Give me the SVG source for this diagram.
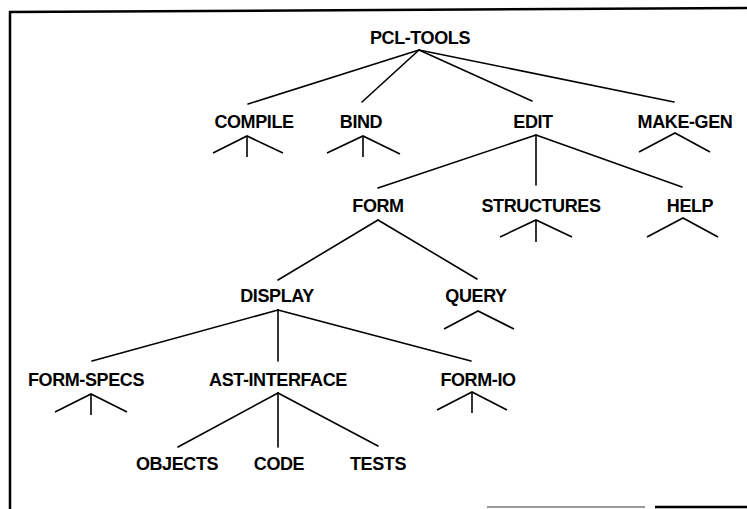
<svg xmlns="http://www.w3.org/2000/svg" width="747" height="509" viewBox="0 0 747 509">
<style>
  .bg { fill: #ffffff; }
  .frame { stroke: #000; stroke-width: 2.5; fill: none; }
  .frame-faint { stroke: #777; stroke-width: 1.5; fill: none; }
  .edge { stroke: #000; stroke-width: 1.6; fill: none; stroke-linecap: round; }
  .stub { stroke: #000; stroke-width: 1.6; fill: none; stroke-linejoin: miter; }
  .label { font-family: "Liberation Sans", Arial, sans-serif; font-weight: bold; font-size: 18px; letter-spacing: -0.4px; fill: #000; text-anchor: middle; }
</style>
<rect class="bg" x="0" y="0" width="747" height="509"/>
<g id="frame">
  <line class="frame" x1="9" y1="12" x2="747" y2="8"/>
  <line class="frame" x1="10" y1="11" x2="10" y2="509"/>
  <line class="frame-faint" x1="487" y1="507" x2="645" y2="507"/>
  <line class="frame" x1="655" y1="507" x2="747" y2="507"/>
</g>
<g id="connectors">
  <line class="edge" x1="419" y1="50" x2="248" y2="104"/>
  <line class="edge" x1="419" y1="50" x2="362" y2="102"/>
  <line class="edge" x1="419" y1="50" x2="532" y2="101"/>
  <line class="edge" x1="419" y1="50" x2="674" y2="102"/>
  <line class="edge" x1="536" y1="135" x2="378" y2="188"/>
  <line class="edge" x1="536" y1="135" x2="536" y2="185"/>
  <line class="edge" x1="536" y1="135" x2="682" y2="187"/>
  <line class="edge" x1="378" y1="220" x2="278" y2="280"/>
  <line class="edge" x1="378" y1="220" x2="477" y2="279"/>
  <line class="edge" x1="278" y1="310" x2="92" y2="361"/>
  <line class="edge" x1="278" y1="310" x2="278" y2="361"/>
  <line class="edge" x1="278" y1="310" x2="471" y2="361"/>
  <line class="edge" x1="278" y1="393" x2="178" y2="447"/>
  <line class="edge" x1="278" y1="393" x2="278" y2="447"/>
  <line class="edge" x1="278" y1="393" x2="378" y2="446"/>
</g>
<g id="pcl-tools"><text class="label" x="420" y="44">PCL-TOOLS</text></g>
<g id="compile">
  <text class="label" x="254" y="128">COMPILE</text>
  <polyline class="stub" points="213,153 247,136 283,153"/>
  <line class="stub" x1="247" y1="136" x2="247" y2="157"/>
</g>
<g id="bind">
  <text class="label" x="361" y="128">BIND</text>
  <polyline class="stub" points="327,153 363,136 400,154"/>
  <line class="stub" x1="363" y1="136" x2="363" y2="157"/>
</g>
<g id="edit"><text class="label" x="533" y="128">EDIT</text></g>
<g id="make-gen">
  <text class="label" x="685" y="128">MAKE-GEN</text>
  <polyline class="stub" points="639,152 675,133 710,152"/>
</g>
<g id="form"><text class="label" x="378" y="212">FORM</text></g>
<g id="structures">
  <text class="label" x="541" y="212">STRUCTURES</text>
  <polyline class="stub" points="500,237 536,220 572,237"/>
  <line class="stub" x1="536" y1="220" x2="536" y2="242"/>
</g>
<g id="help">
  <text class="label" x="690" y="212">HELP</text>
  <polyline class="stub" points="647,237 683,218 718,237"/>
</g>
<g id="display"><text class="label" x="277" y="302">DISPLAY</text></g>
<g id="query">
  <text class="label" x="476" y="302">QUERY</text>
  <polyline class="stub" points="444,329 478,311 514,329"/>
</g>
<g id="form-specs">
  <text class="label" x="86" y="386">FORM-SPECS</text>
  <polyline class="stub" points="55,412 91,394 127,412"/>
  <line class="stub" x1="91" y1="394" x2="91" y2="415"/>
</g>
<g id="ast-interface"><text class="label" x="278" y="386">AST-INTERFACE</text></g>
<g id="form-io">
  <text class="label" x="478" y="386">FORM-IO</text>
  <polyline class="stub" points="437,410 472,392 507,410"/>
  <line class="stub" x1="472" y1="392" x2="472" y2="413"/>
</g>
<g id="objects"><text class="label" x="177" y="470">OBJECTS</text></g>
<g id="code"><text class="label" x="279" y="470">CODE</text></g>
<g id="tests"><text class="label" x="378" y="470">TESTS</text></g>
</svg>
